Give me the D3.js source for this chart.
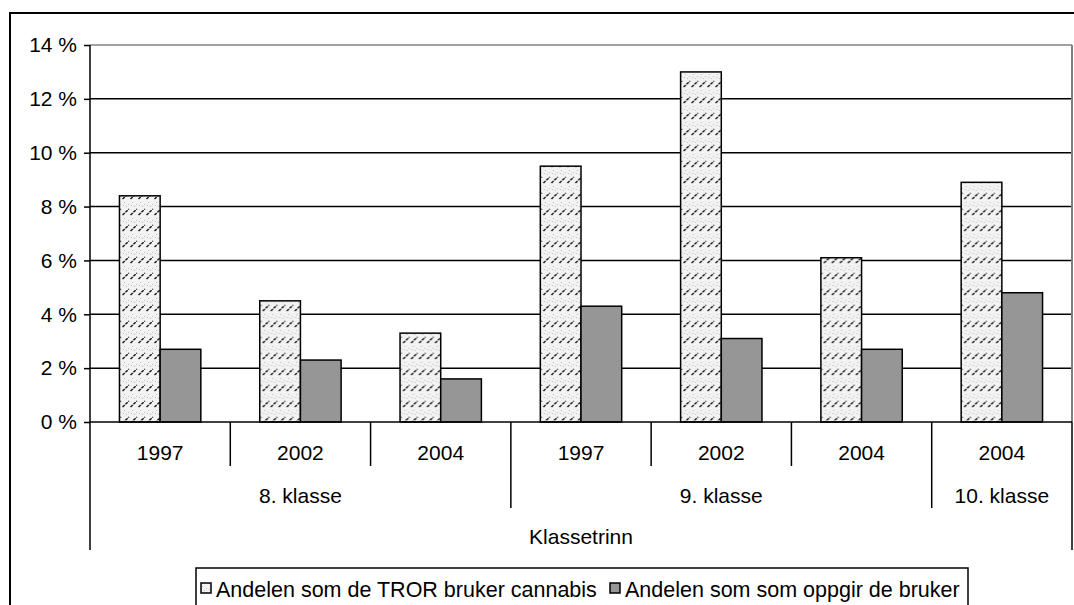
<!DOCTYPE html>
<html>
<head>
<meta charset="utf-8">
<script src="https://cdn.jsdelivr.net/npm/d3@7"></script>
<style>
  body { margin: 0; background: #fff; overflow: hidden; }
  text { font-family: "Liberation Sans", Arial, sans-serif; fill: #000; }
</style>
</head>
<body>
<div id="chart"></div>
<script>
'use strict';

// data
const years = ['1997', '2002', '2004', '1997', '2002', '2004', '2004'];
const grades = [
    {label: '8. klasse', from: 0, to: 3},
    {label: '9. klasse', from: 3, to: 6},
    {label: '10. klasse', from: 6, to: 7}
];
const tror = [8.4, 4.5, 3.3, 9.5, 13.0, 6.1, 8.9];
const oppgir = [2.7, 2.3, 1.6, 4.3, 3.1, 2.7, 4.8];
const seriesNames = ['Andelen som de TROR bruker cannabis', 'Andelen som som oppgir de bruker'];
const yTicks = [0, 2, 4, 6, 8, 10, 12, 14];
const axisTitle = 'Klassetrinn';

const width = 1074, height = 605;
const plotLeft = 90, plotRight = 1072, plotTop = 45, plotBottom = 422;
const fontSize = '21px';

const svg = d3.select('#chart').append('svg')
    .attr('width', width).attr('height', height);

// hatch pattern for the first series
const defs = svg.append('defs');
const pat = defs.append('pattern').attr('id', 'hatch')
    .attr('patternUnits', 'userSpaceOnUse').attr('width', 8).attr('height', 16);
pat.append('rect').attr('width', 8).attr('height', 16).attr('fill', '#f2f2f2');
pat.append('path').attr('d', 'M0.5,7 L7,1').attr('stroke', '#1a1a1a').attr('stroke-width', 1.5)
    .attr('stroke-dasharray', '3,1');
[[2, 10], [6, 12], [4, 14], [1, 13]].forEach(([px, py]) =>
    pat.append('rect').attr('x', px).attr('y', py).attr('width', 1).attr('height', 1).attr('fill', '#bbb'));

// outer frame
svg.append('rect').attr('x', 10).attr('y', 13).attr('width', 1100).attr('height', 700)
    .attr('fill', 'none').attr('stroke', '#000').attr('stroke-width', 2);

const x = d3.scaleBand().domain(d3.range(years.length)).range([plotLeft, plotRight]);
const y = d3.scaleLinear().domain([0, 14]).range([plotBottom, plotTop]);
const bw = x.bandwidth();
const inner = d3.scaleBand().domain([0, 1]).range([bw * 0.21, bw * 0.79]);

// gridlines
svg.append('g').selectAll('line').data(yTicks.filter(d => d > 0)).join('line')
    .attr('x1', plotLeft).attr('x2', plotRight)
    .attr('y1', d => y(d)).attr('y2', d => y(d))
    .attr('stroke', d => d === 14 ? '#808080' : '#000').attr('stroke-width', 1.5);
svg.append('line').attr('x1', plotRight).attr('x2', plotRight).attr('y1', plotTop).attr('y2', plotBottom)
    .attr('stroke', '#808080').attr('stroke-width', 2);

// y axis
const yAxis = svg.append('g').attr('transform', `translate(${plotLeft},0)`)
    .call(d3.axisLeft(y).tickValues(yTicks).tickFormat(d => d + ' %').tickSizeOuter(0).tickSize(6).tickPadding(7));
yAxis.select('.domain').remove();
yAxis.selectAll('line').attr('stroke', '#000').attr('stroke-width', 1.5);
yAxis.selectAll('text').style('font-size', fontSize).attr('fill', '#000');

// bars
const groups = svg.append('g').selectAll('g').data(years).join('g')
    .attr('transform', (d, i) => `translate(${x(i)},0)`);
groups.append('rect')
    .attr('x', inner(0)).attr('width', inner.bandwidth())
    .attr('y', (d, i) => y(tror[i])).attr('height', (d, i) => y(0) - y(tror[i]))
    .attr('fill', 'url(#hatch)').attr('stroke', '#000').attr('stroke-width', 1.5);
groups.append('rect')
    .attr('x', inner(1)).attr('width', inner.bandwidth())
    .attr('y', (d, i) => y(oppgir[i])).attr('height', (d, i) => y(0) - y(oppgir[i]))
    .attr('fill', '#969696').attr('stroke', '#000').attr('stroke-width', 1.5);

// axes lines
svg.append('line').attr('x1', plotLeft).attr('x2', plotRight).attr('y1', y(0)).attr('y2', y(0))
    .attr('stroke', '#000').attr('stroke-width', 1.5);
svg.append('line').attr('x1', plotLeft).attr('x2', plotLeft).attr('y1', plotTop).attr('y2', 550)
    .attr('stroke', '#000').attr('stroke-width', 1.5);
svg.append('line').attr('x1', plotRight).attr('x2', plotRight).attr('y1', plotBottom).attr('y2', 550)
    .attr('stroke', '#000').attr('stroke-width', 1.5);

// multi-level category axis
const groupEdges = grades.map(g => g.from).filter(i => i > 0);
const yearEdges = d3.range(1, years.length).filter(i => !groupEdges.includes(i));
svg.append('g').selectAll('line').data(yearEdges).join('line')
    .attr('x1', i => x(i)).attr('x2', i => x(i)).attr('y1', plotBottom).attr('y2', 466)
    .attr('stroke', '#000').attr('stroke-width', 1.5);
svg.append('g').selectAll('line').data(groupEdges).join('line')
    .attr('x1', i => x(i)).attr('x2', i => x(i)).attr('y1', plotBottom).attr('y2', 508)
    .attr('stroke', '#000').attr('stroke-width', 1.5);

svg.append('g').selectAll('text').data(years).join('text')
    .attr('x', (d, i) => x(i) + bw / 2).attr('y', 460)
    .attr('text-anchor', 'middle').style('font-size', fontSize).text(d => d);
svg.append('g').selectAll('text').data(grades).join('text')
    .attr('x', g => (x(g.from) + (g.to < years.length ? x(g.to) : plotRight)) / 2).attr('y', 503)
    .attr('text-anchor', 'middle').style('font-size', fontSize).text(g => g.label);
svg.append('text').attr('x', (plotLeft + plotRight) / 2).attr('y', 544)
    .attr('text-anchor', 'middle').style('font-size', fontSize).text(axisTitle);

// legend
const legend = svg.append('g');
legend.append('rect').attr('x', 196).attr('y', 568).attr('width', 772).attr('height', 60)
    .attr('fill', '#fff').attr('stroke', '#000').attr('stroke-width', 1.5);
const legendX = [201, 610];
const legendFill = ['url(#hatch)', '#969696'];
seriesNames.forEach((name, i) => {
    legend.append('rect').attr('x', legendX[i]).attr('y', 583).attr('width', 10).attr('height', 10)
        .attr('fill', legendFill[i]).attr('stroke', '#000').attr('stroke-width', 1.5);
    legend.append('text').attr('x', legendX[i] + 15).attr('y', 597)
        .style('font-size', '21.5px').text(name);
});
</script>
</body>
</html>
